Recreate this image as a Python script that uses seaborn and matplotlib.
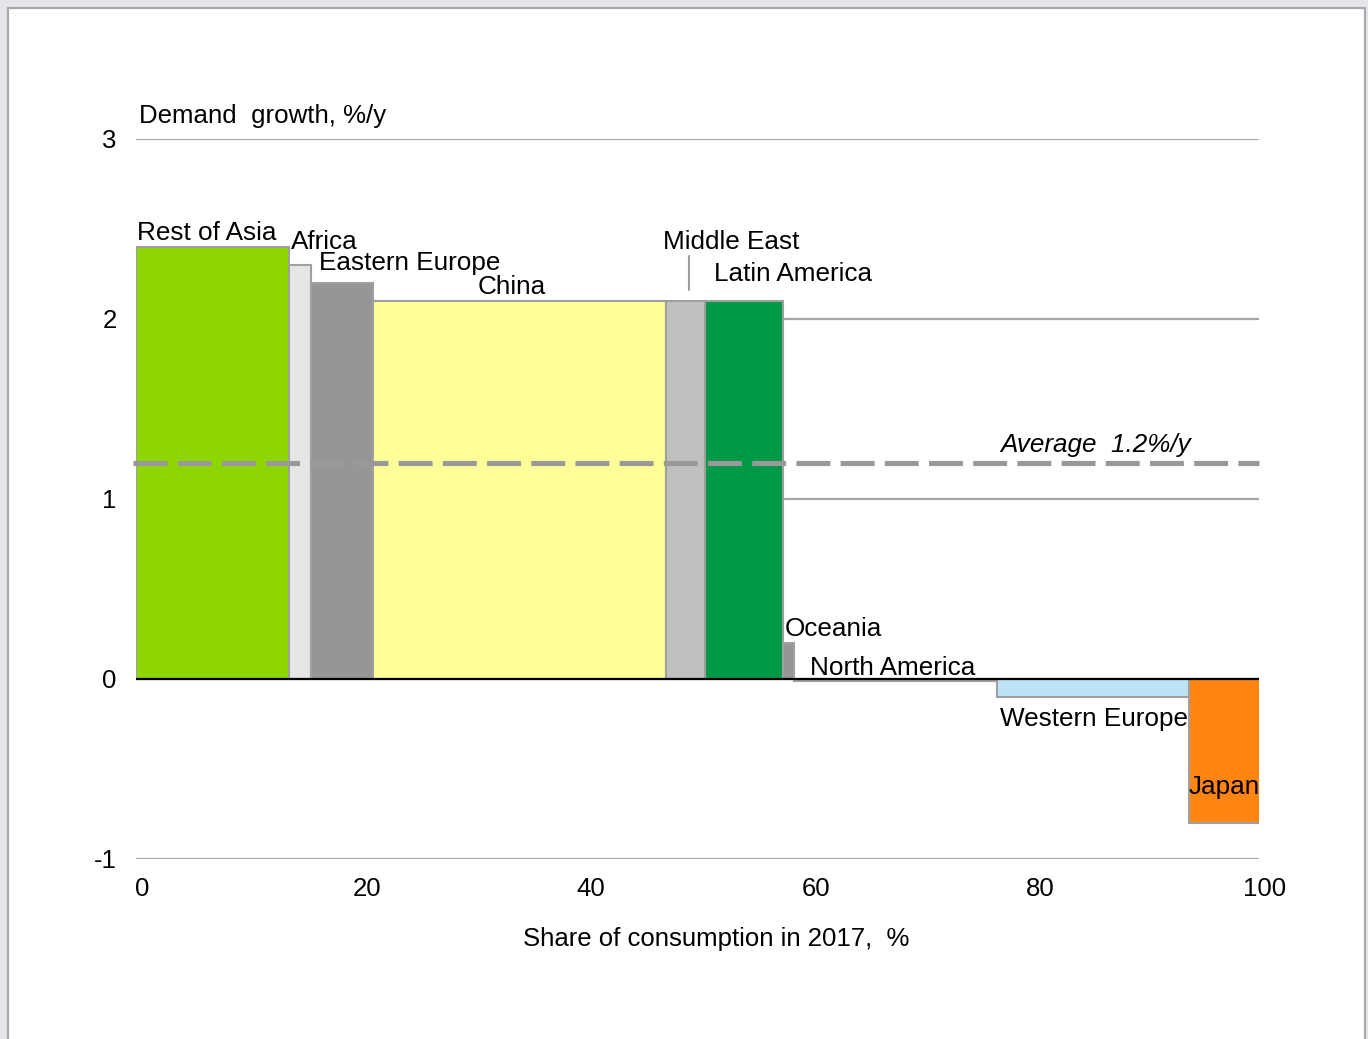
import matplotlib
matplotlib.use("Agg")
import matplotlib.pyplot as plt
import matplotlib.transforms as mtransforms
from matplotlib.patches import Rectangle
import numpy as np
import pandas as pd
import seaborn as sns

# Regions, their share of 2017 consumption (%) and demand growth (%/y)
regions = ["Rest of Asia", "Africa", "Eastern Europe", "China", "Middle East",
           "Latin America", "Oceania", "North America", "Western Europe", "Japan"]
shares = [13.6, 2.0, 5.5, 26.1, 3.5, 6.9, 1.0, 18.1, 17.1, 6.3]
growth = [2.4, 2.3, 2.2, 2.1, 2.1, 2.1, 0.2, -0.01, -0.1, -0.8]
colors = ["#8ed600", "#e6e6e8", "#969696", "#ffff99", "#c0c0c0",
          "#009a46", "#969696", "#ffffff", "#bde3f6", "#ff8412"]
average_growth = 1.2
x_ticks = [0, 20, 40, 60, 80, 100]
y_ticks = [-1, 0, 1, 2, 3]

# Label anchor points (data coords) for each region name
label_pos = {
    "Rest of Asia": (0.1, 2.475),
    "Africa": (13.8, 2.43),
    "Eastern Europe": (16.3, 2.31),
    "China": (30.4, 2.175),
    "Middle East": (46.9, 2.43),
    "Latin America": (51.5, 2.25),
    "Oceania": (57.8, 0.28),
    "North America": (60.0, 0.06),
    "Western Europe": (76.9, -0.22),
    "Japan": (93.75, -0.60),
}

sns.set_theme(style="white")
plt.rcParams["font.family"] = ["Liberation Sans", "DejaVu Sans"]
plt.rcParams["text.color"] = "black"
plt.rcParams["xtick.color"] = "black"
plt.rcParams["ytick.color"] = "black"

df = pd.DataFrame({"region": regions, "share": shares, "growth": growth,
                   "color": colors})
df["left"] = df["share"].cumsum() - df["share"]

fig = plt.figure(figsize=(13.68, 10.39), dpi=100)
fig.patch.set_facecolor("#e5e6ea")
W, H = 1368, 1039
# white page panel with thin grey frame
fig.patches.append(Rectangle((8 / W, -0.01), (1365 - 8) / W, 1 - 8 / H + 0.01,
                             transform=fig.transFigure, facecolor="white",
                             edgecolor="#a9a9ad", linewidth=1.6, zorder=-5))

ax = fig.add_axes([136 / W, 1 - 859 / H, (1259 - 136) / W, (859 - 139) / H])
ax.set_facecolor("none")
ax.set_xlim(0, 100)
ax.set_ylim(-1, 3)

# horizontal gridlines behind the bars
for yv in y_ticks:
    if yv == 0:
        continue
    ax.axhline(yv, color="#a6a6a6", linewidth=1.6, zorder=1)

# variable-width bars
ax.bar(df["left"], df["growth"], width=df["share"], align="edge",
       color=df["color"], edgecolor="#a0a0a0", linewidth=1.5, zorder=2)

ax.axhline(0, color="black", linewidth=1.6, zorder=3)

# average demand growth line
avg_df = pd.DataFrame({"x": [-0.3, 100], "y": [average_growth, average_growth]})
sns.lineplot(data=avg_df, x="x", y="y", ax=ax, color="#999999", linewidth=3.7,
             zorder=4, clip_on=False)
ax.lines[-1].set_dashes([6.6, 2.0])
ax.text(77.0, 1.30, "Average  1.2%/y", fontsize=18.7, style="italic",
        ha="left", va="center", zorder=5)

for name in regions:
    px, py = label_pos[name]
    ax.text(px, py, name, fontsize=18.8, ha="left", va="center", zorder=5)

# leader line for Middle East
ax.plot([49.24, 49.24], [2.16, 2.35], color="#a0a0a0", linewidth=1.5, zorder=5)

ax.text(0.27, 3.13, "Demand  growth, %/y", fontsize=18.6, ha="left",
        va="center")

ax.set_xticks(x_ticks)
ax.set_yticks(y_ticks)
ax.set_xticklabels([str(t) for t in x_ticks], fontsize=18.5)
ax.set_yticklabels([str(t) for t in y_ticks], fontsize=18.5)
ax.tick_params(axis="x", length=0, pad=13)
ax.tick_params(axis="y", length=0, pad=14)
offset = mtransforms.ScaledTranslation(6 / 100, 0, fig.dpi_scale_trans)
for lbl in ax.get_xticklabels():
    lbl.set_transform(lbl.get_transform() + offset)
for s in ax.spines.values():
    s.set_visible(False)
ax.set_xlabel("")
ax.set_ylabel("")
ax.grid(False)

fig.text(716 / W, 1 - 939 / H, "Share of consumption in 2017,  %",
         fontsize=18.5, ha="center", va="center")

fig.savefig("out.png", dpi=100, facecolor=fig.get_facecolor())
